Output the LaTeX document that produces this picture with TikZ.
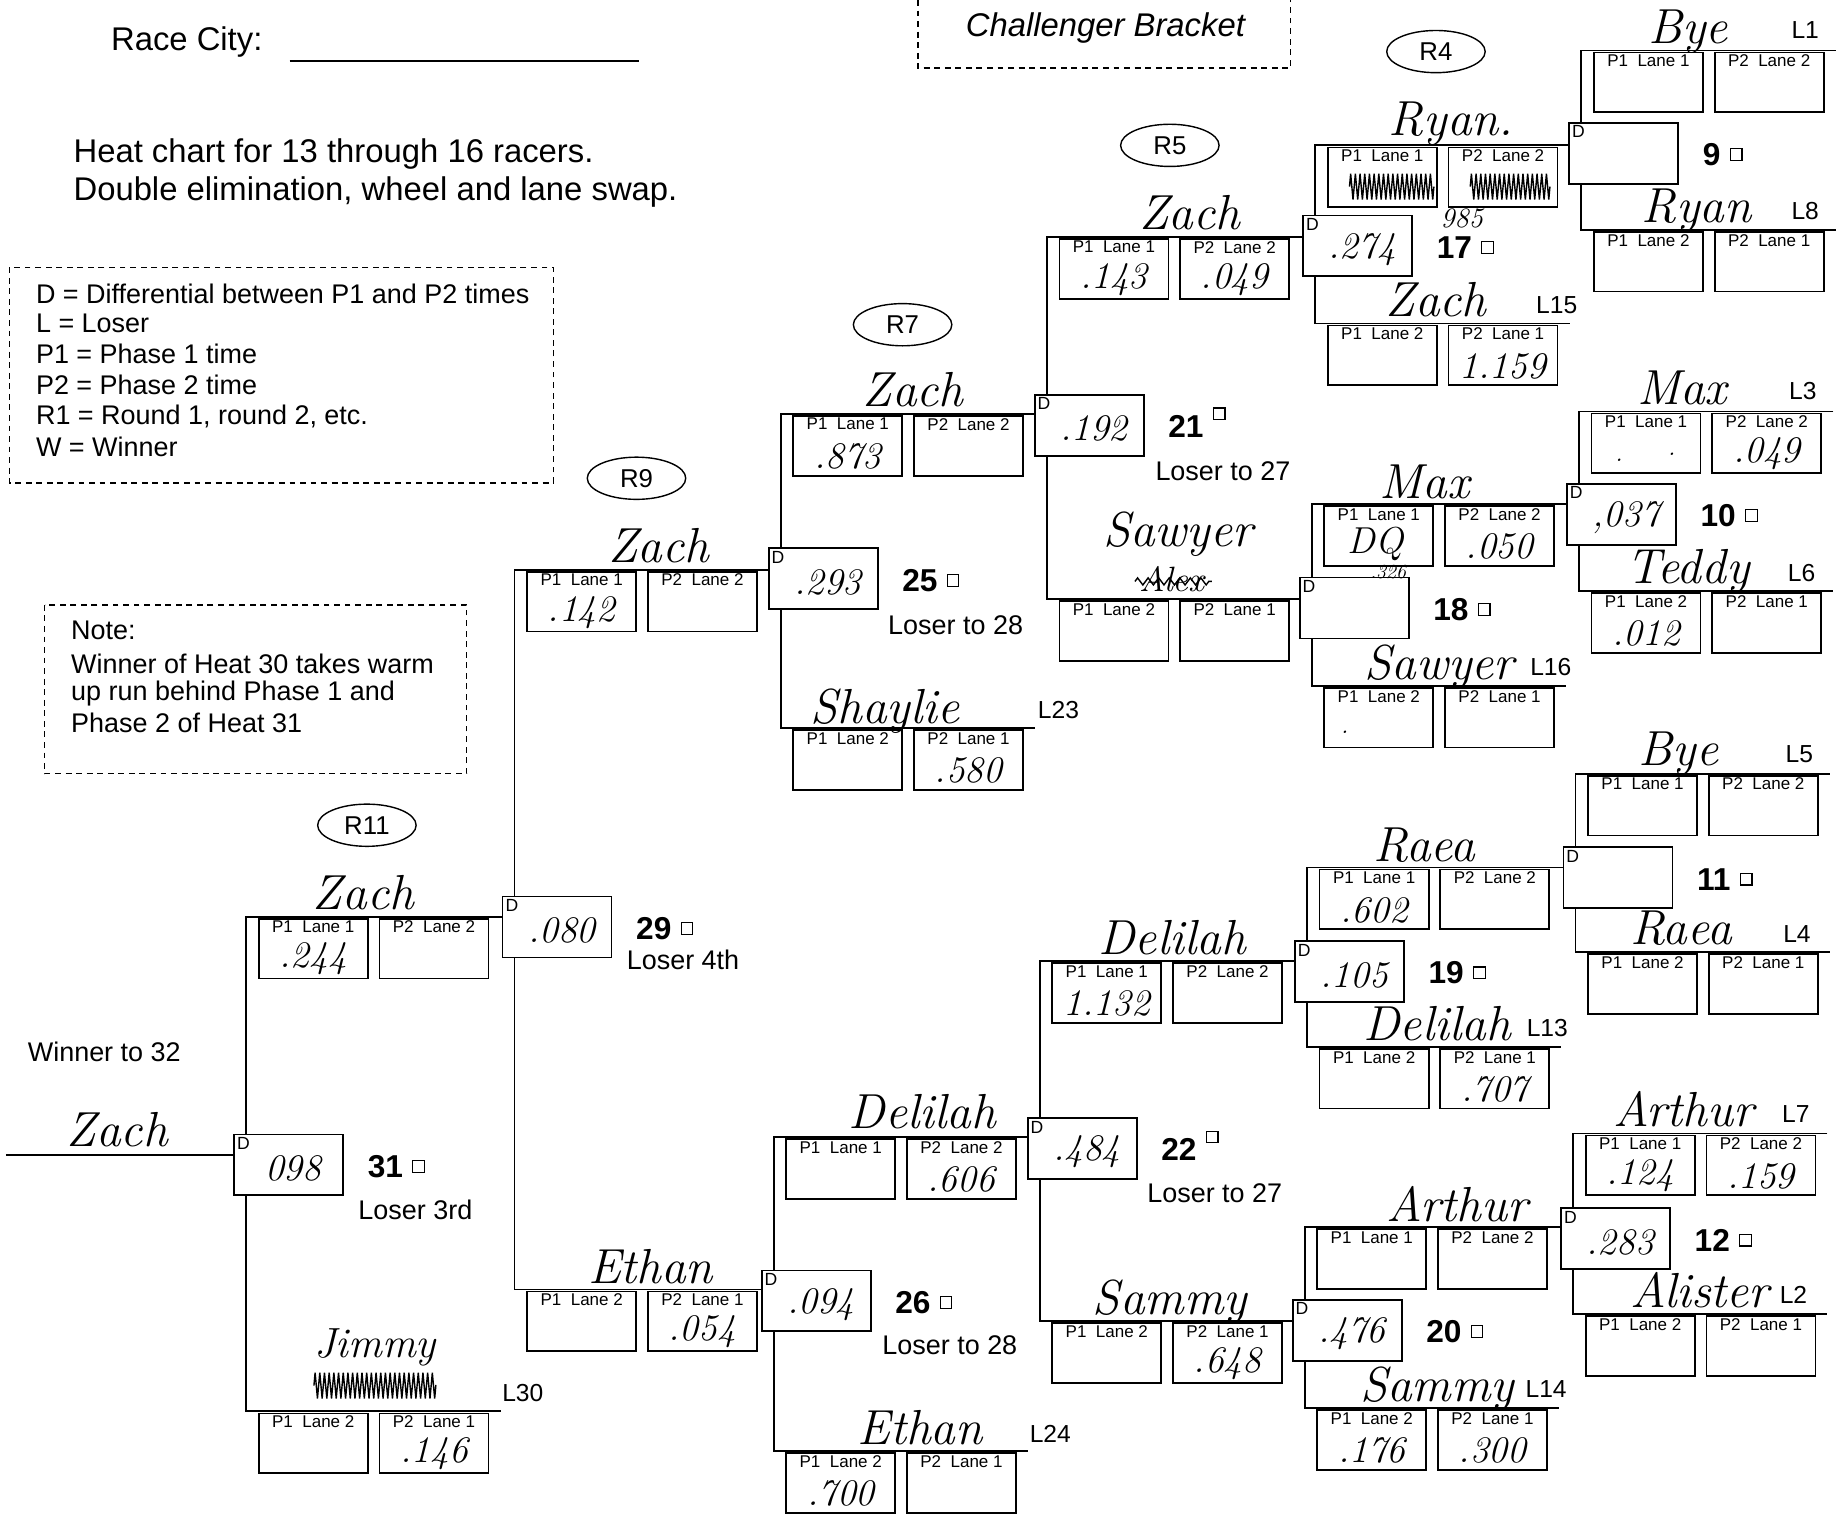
\documentclass[tikz,border=0pt]{standalone}
\usepackage{fontspec}
\setsansfont{Liberation Sans}
\usetikzlibrary{positioning,shapes.geometric,decorations.pathmorphing}
\pgfdeclarelayer{background}
\pgfsetlayers{background,main}

% one heat: lane boxes, D box, heat number
\newcommand{\heatblock}[6][0]{%
	\node[lanebox,label={[lanetxt]north:P1~~Lane~1}] (#2a) at (#3+10,#4+1) {};
	\node[lanebox,label={[lanetxt]north:P2~~Lane~2}] (#2b) at (#3+113,#4+1) {};
	\node[lanebox,label={[lanetxt]north:P1~~Lane~2}] (#2c) at (#3+10,#5+1) {};
	\node[lanebox,label={[lanetxt]north:P2~~Lane~1}] (#2d) at (#3+113,#5+1) {};
	\node[dbox,label={[dtag]north west:D}] (#2D) at (#3-11,#6) {};
	\node[heatno] (#2n) at (#3+103,#6+28) {#2};
	\node[tick,right=7pt of #2n,yshift=#1pt] (#2s) {};
	\coordinate (#2t) at (#3,#4);
	\coordinate (#2u) at (#3,#5);
	\coordinate (#2e) at (#3+217,#4);
}

\begin{document}
\begin{tikzpicture}[x=1pt,y=-1pt,line width=1.5pt]
	\tikzstyle{lanebox}=[draw,anchor=north west,minimum width=93pt,minimum height=51pt,inner sep=0pt,fill=white]
	\tikzstyle{lanetxt}=[anchor=north,inner sep=2pt,font=\sffamily\fontsize{14.5}{15}\selectfont]
	\tikzstyle{dbox}=[draw,anchor=north west,minimum width=93pt,minimum height=52pt,inner sep=0pt,fill=white]
	\tikzstyle{dtag}=[anchor=north west,inner sep=2.5pt,font=\sffamily\fontsize{15}{15}\selectfont]
	\tikzstyle{heatno}=[anchor=west,inner sep=0pt,font=\sffamily\bfseries\fontsize{27}{27}\selectfont]
	\tikzstyle{tick}=[draw,minimum size=10pt,inner sep=0pt,line width=1pt]
	\tikzstyle{bracket}=[line width=1.5pt]
	\tikzstyle{hand}=[anchor=base,inner sep=0pt,font=\rmfamily\itshape\fontsize{42}{42}\selectfont]
	\tikzstyle{handval}=[inner sep=0pt,font=\rmfamily\itshape\fontsize{32}{32}\selectfont]
	\tikzstyle{handdot}=[inner sep=0pt,font=\rmfamily\itshape\fontsize{22}{22}\selectfont]
	\tikzstyle{printed}=[anchor=west,inner sep=0pt,font=\sffamily\fontsize{23}{23}\selectfont]
	\tikzstyle{bigprint}=[anchor=west,inner sep=0pt,font=\sffamily\fontsize{28}{28}\selectfont]
	\tikzstyle{ltag}=[inner sep=0pt,font=\sffamily\fontsize{21}{21}\selectfont]
	\tikzstyle{rtag}=[draw,ellipse,minimum width=84pt,minimum height=36pt,inner sep=0pt,line width=1.2pt,font=\sffamily\fontsize{22}{22}\selectfont]
	\tikzstyle{dashbox}=[draw,dash pattern=on 5pt off 4pt,line width=1.2pt]
	\tikzstyle{scribble}=[decorate,decoration={zigzag,amplitude=11pt,segment length=4pt},line width=1.2pt]
	
	\useasboundingbox (0,0) rectangle (1568,1301);
	
	% header and notes
	\node[bigprint] (city) at (94,36) {Race City:};
	\coordinate (cityA) at (247,52);
	\coordinate (cityB) at (545,52);
	\draw[line width=1.2pt] (cityA) -- (cityB);
	\node[font=\sffamily\itshape\fontsize{28}{28}\selectfont] (chal) at (943,24) {Challenger Bracket};
	\draw[dashbox] (783,0) -- (783,58) -- (1101,58) -- (1101,0);
	\node[bigprint] (chart1) at (62,131) {Heat chart for 13 through 16 racers.};
	\node[bigprint] (chart2) at (62,164) {Double elimination, wheel and lane swap.};
	
	\draw[dashbox] (8,228) rectangle (472,412);
	\node[printed] (key1) at (30,251) {D = Differential between P1 and P2 times};
	\node[printed] (key2) at (30,276) {L = Loser};
	\node[printed] (key3) at (30,302) {P1 = Phase 1 time};
	\node[printed] (key4) at (30,328) {P2 = Phase 2 time};
	\node[printed] (key5) at (30,355) {R1 = Round 1, round 2, etc.};
	\node[printed] (key6) at (30,381) {W = Winner};
	
	\draw[dashbox] (38,516) rectangle (398,660);
	\node[printed] (note1) at (60,538) {Note:};
	\node[printed] (note2) at (60,566) {Winner of Heat 30 takes warm};
	\node[printed] (note3) at (60,592) {up run behind Phase 1 and};
	\node[printed] (note4) at (60,617) {Phase 2 of Heat 31};
	
	\node[printed] (win32) at (23,897) {Winner to 32};
	
	\node[rtag] (r4) at (1225,44) {R4};
	\node[rtag] (r5) at (998,124) {R5};
	\node[rtag] (r7) at (770,277) {R7};
	\node[rtag] (r9) at (543,408) {R9};
	\node[rtag] (r11) at (313,704) {R11};
	
	% heats
	\heatblock{9}{1349}{43}{196}{104}
	\heatblock{10}{1347}{351}{504}{412}
	\heatblock{11}{1344}{660}{812}{722}
	\heatblock{12}{1342}{967}{1121}{1030}
	\heatblock{17}{1122}{124}{276}{183}
	\heatblock{18}{1119}{430}{585}{492}
	\heatblock{19}{1115}{740}{893}{802}
	\heatblock{20}{1113}{1047}{1201}{1108}
	\heatblock[11]{21}{893}{202}{511}{336}
	\heatblock[11]{22}{887}{820}{1127}{953}
	\heatblock{25}{666}{353}{621}{467}
	\heatblock{26}{660}{970}{1238}{1083}
	\heatblock{29}{439}{486}{1100}{764}
	\heatblock{31}{210}{782}{1204}{967}
	
	\node[printed] (21l) at (985,402) {Loser to 27};
	\node[printed] (22l) at (978,1018) {Loser to 27};
	\node[printed] (25l) at (757,533) {Loser to 28};
	\node[printed] (26l) at (752,1148) {Loser to 28};
	\node[printed] (29l) at (534,819) {Loser 4th};
	\node[printed] (31l) at (305,1032) {Loser 3rd};
	
	\coordinate (win) at (5,985);
	\begin{pgfonlayer}{background}
	\draw[bracket] (9t -| 9e) -- (9t) -- (9u) -- (9u -| 9e);
	\draw[bracket] (10t -| 10e) -- (10t) -- (10u) -- (10u -| 10e);
	\draw[bracket] (11t -| 11e) -- (11t) -- (11u) -- (11u -| 11e);
	\draw[bracket] (12t -| 12e) -- (12t) -- (12u) -- (12u -| 12e);
	\draw[bracket] (17t -| 9D.west) -- (17t) -- (17u) -- (17u -| 17e);
	\draw[bracket] (18t -| 10D.west) -- (18t) -- (18u) -- (18u -| 18e);
	\draw[bracket] (19t -| 11D.west) -- (19t) -- (19u) -- (19u -| 19e);
	\draw[bracket] (20t -| 12D.west) -- (20t) -- (20u) -- (20u -| 20e);
	\draw[bracket] (21t -| 17D.west) -- (21t) -- (21u) -- (21u -| 18D.west);
	\draw[bracket] (22t -| 19D.west) -- (22t) -- (22u) -- (22u -| 20D.west);
	\draw[bracket] (25t -| 21D.west) -- (25t) -- (25u) -- (25u -| 25e);
	\draw[bracket] (26t -| 22D.west) -- (26t) -- (26u) -- (26u -| 26e);
	\draw[bracket] (29t -| 25D.west) -- (29t) -- (29u) -- (29u -| 26D.west);
	\draw[bracket] (31t -| 29D.west) -- (31t) -- (31u) -- (31u -| 31e);
	\draw[bracket] (win) -- (win -| 31D.west);
	\end{pgfonlayer}
	
	% loser tags
	\node[ltag] (L1) at (1540,26) {L1};
	\node[ltag] (L8) at (1540,180) {L8};
	\node[ltag] (L3) at (1538,334) {L3};
	\node[ltag] (L6) at (1537,489) {L6};
	\node[ltag] (L5) at (1535,643) {L5};
	\node[ltag] (L4) at (1533,797) {L4};
	\node[ltag] (L7) at (1532,950) {L7};
	\node[ltag] (L2) at (1530,1105) {L2};
	\node[ltag] (L15) at (1328,260) {L15};
	\node[ltag] (L16) at (1323,569) {L16};
	\node[ltag] (L13) at (1320,877) {L13};
	\node[ltag] (L14) at (1319,1185) {L14};
	\node[ltag] (L23) at (903,606) {L23};
	\node[ltag] (L24) at (896,1223) {L24};
	\node[ltag] (L30) at (446,1188) {L30};
	
	% names
	\node[hand] (n9t) at (1440,37) {Bye};
	\node[hand] (n9u) at (1447,190) {Ryan};
	\node[hand] (n10t) at (1435,345) {Max};
	\node[hand] (n10u) at (1440,498) {Teddy};
	\node[hand] (n11t) at (1432,653) {Bye};
	\node[hand] (n11u) at (1434,806) {Raea};
	\node[hand] (n12t) at (1436,961) {Arthur};
	\node[hand] (n12u) at (1450,1115) {Alister};
	\node[hand] (n17t) at (1238,116) {Ryan.};
	\node[hand] (n17u) at (1225,270) {Zach};
	\node[hand] (n18t) at (1215,425) {Max};
	\node[hand] (n18u) at (1228,580) {Sawyer};
	\node[hand] (n19t) at (1215,735) {Raea};
	\node[hand] (n19u) at (1226,888) {Delilah};
	\node[hand] (n20t) at (1243,1042) {Arthur};
	\node[hand] (n20u) at (1226,1196) {Sammy};
	\node[hand] (n21t) at (1015,196) {Zach};
	\node[hand] (n21u) at (1005,466) {Sawyer};
	\node[hand,font=\rmfamily\itshape\fontsize{30}{30}\selectfont] (n21x) at (1000,505) {Alex};
	\node[hand] (n22t) at (1000,814) {Delilah};
	\node[hand] (n22u) at (998,1121) {Sammy};
	\node[hand] (n25t) at (779,347) {Zach};
	\node[hand] (n25u) at (755,617) {Shaylie};
	\node[hand] (n26t) at (787,963) {Delilah};
	\node[hand] (n26u) at (785,1232) {Ethan};
	\node[hand] (n29t) at (562,480) {Zach};
	\node[hand] (n29u) at (555,1095) {Ethan};
	\node[hand] (n31t) at (310,776) {Zach};
	\node[hand,font=\rmfamily\itshape\fontsize{36}{36}\selectfont] (n31u) at (320,1158) {Jimmy};
	\node[hand] (nwin) at (100,978) {Zach};
	
	% crossed out
	\draw[scribble] ([xshift=-28pt,yshift=-8pt]17a.center) -- ([xshift=44pt,yshift=-8pt]17a.center);
	\draw[scribble] ([xshift=-28pt,yshift=-8pt]17b.center) -- ([xshift=40pt,yshift=-8pt]17b.center);
	\draw[decorate,decoration={zigzag,amplitude=3pt,segment length=9pt},line width=1.2pt] ([xshift=-4pt,yshift=9pt]n21x.base west) -- ([xshift=6pt,yshift=9pt]n21x.base east);
	\draw[scribble] ([yshift=-24pt]n31u.base west) -- ([yshift=-24pt]n31u.base east);
	
	% times
	\node[handdot] (v10a1) at ([xshift=-23pt,yshift=-14pt]10a.center) {.};
	\node[handdot] (v10a2) at ([xshift=22pt,yshift=-9pt]10a.center) {.};
	\node[handval] (v10b) at ([yshift=-9pt]10b.center) {.049};
	\node[handval] (v10D) at ([xshift=4pt,yshift=-3pt]10D.center) {,037};
	\node[handval] (v10c) at ([yshift=-9pt]10c.center) {.012};
	\node[handval] (v12a) at ([yshift=-9pt]12a.center) {.124};
	\node[handval] (v12b) at ([yshift=-9pt]12b.center) {.159};
	\node[handval] (v12D) at ([xshift=4pt,yshift=-3pt]12D.center) {.283};
	\node[handval] (v17D) at ([xshift=4pt,yshift=-3pt]17D.center) {.274};
	\node[handval,font=\rmfamily\itshape\fontsize{24}{24}\selectfont] (v17n) at (1247,186) {985};
	\node[handval] (v17d) at ([yshift=-9pt]17d.center) {1.159};
	\node[handval] (v18a) at ([xshift=-3pt,yshift=-7pt]18a.center) {DQ};
	\node[handval,font=\rmfamily\itshape\fontsize{17}{17}\selectfont] (v18a2) at ([xshift=8pt,yshift=-31pt]18a.center) {.326};
	\node[handval] (v18b) at ([yshift=-9pt]18b.center) {.050};
	\node[handdot] (v18c) at ([xshift=-29pt,yshift=-12pt]18c.center) {.};
	\node[handval] (v19a) at ([yshift=-9pt]19a.center) {.602};
	\node[handval] (v19D) at ([xshift=4pt,yshift=-3pt]19D.center) {.105};
	\node[handval] (v19d) at ([yshift=-9pt]19d.center) {.707};
	\node[handval] (v20D) at ([xshift=4pt,yshift=-3pt]20D.center) {.476};
	\node[handval] (v20c) at ([yshift=-9pt]20c.center) {.176};
	\node[handval] (v20d) at ([yshift=-9pt]20d.center) {.300};
	\node[handval] (v21a) at ([yshift=-9pt]21a.center) {.143};
	\node[handval] (v21b) at ([yshift=-9pt]21b.center) {.049};
	\node[handval] (v21D) at ([xshift=4pt,yshift=-3pt]21D.center) {.192};
	\node[handval] (v22a) at ([yshift=-9pt]22a.center) {1.132};
	\node[handval] (v22D) at ([xshift=4pt,yshift=-3pt]22D.center) {.484};
	\node[handval] (v22d) at ([yshift=-9pt]22d.center) {.648};
	\node[handval] (v25a) at ([yshift=-9pt]25a.center) {.873};
	\node[handval] (v25D) at ([xshift=4pt,yshift=-3pt]25D.center) {.293};
	\node[handval] (v25d) at ([yshift=-9pt]25d.center) {.580};
	\node[handval] (v26b) at ([yshift=-9pt]26b.center) {.606};
	\node[handval] (v26D) at ([xshift=4pt,yshift=-3pt]26D.center) {.094};
	\node[handval] (v26c) at ([yshift=-9pt]26c.center) {.700};
	\node[handval] (v29a) at ([yshift=-9pt]29a.center) {.142};
	\node[handval] (v29D) at ([xshift=4pt,yshift=-3pt]29D.center) {.080};
	\node[handval] (v29d) at ([yshift=-9pt]29d.center) {.054};
	\node[handval] (v31a) at ([yshift=-9pt]31a.center) {.244};
	\node[handval] (v31D) at ([xshift=4pt,yshift=-3pt]31D.center) {098};
	\node[handval] (v31d) at ([yshift=-9pt]31d.center) {.146};
\end{tikzpicture}
\end{document}
